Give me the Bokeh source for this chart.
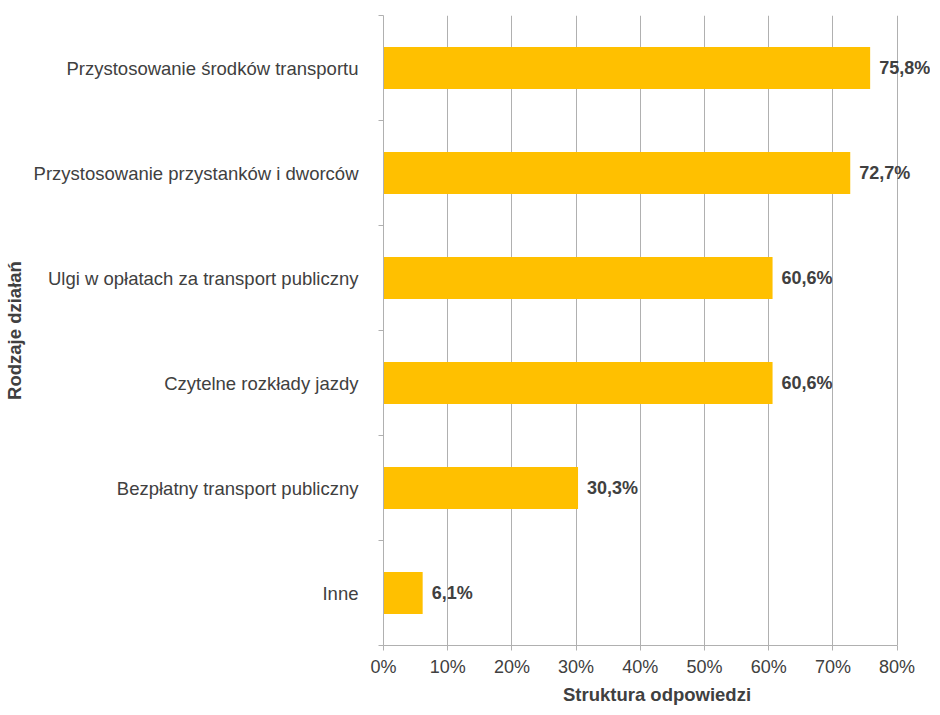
from bokeh.plotting import figure
from bokeh.models import ColumnDataSource, Range1d, FixedTicker, PrintfTickFormatter
from bokeh.core.properties import value
from bokeh.embed import file_html
from bokeh.resources import INLINE

categories = [
    "Przystosowanie środków transportu",
    "Przystosowanie przystanków i dworców",
    "Ulgi w opłatach za transport publiczny",
    "Czytelne rozkłady jazdy",
    "Bezpłatny transport publiczny",
    "Inne",
]
values = [75.8, 72.7, 60.6, 60.6, 30.3, 6.1]
x_ticks = [0, 10, 20, 30, 40, 50, 60, 70, 80]

positions = list(range(1, len(categories) + 1))
labels = [f"{v:.1f}".replace(".", ",") + "%" for v in values]
source = ColumnDataSource(dict(y=positions, v=values, lab=labels))

BAR = "#FFC000"
TXT = "#404040"
GRID = "#b0b0b0"

p = figure(
    width=930, height=707,
    x_range=Range1d(0, 85.2), y_range=Range1d(len(categories) + 0.5, 0.5),
    output_backend="svg", toolbar_location=None,
    min_border_left=374, min_border_top=15, min_border_right=0, min_border_bottom=61,
)
p.outline_line_color = None
p.background_fill_color = "white"
p.border_fill_color = "white"

p.hbar(y="y", right="v", left=0, height=0.4, source=source,
       fill_color=BAR, line_color=None)

p.text(x="v", y="y", text="lab", source=source, x_offset=9,
       text_align="left", text_baseline="middle",
       text_font=value("Liberation Sans"), text_font_style="bold",
       text_font_size="18px", text_color=TXT)

# x axis
p.xaxis.ticker = FixedTicker(ticks=x_ticks)
p.xaxis.formatter = PrintfTickFormatter(format="%d%%")
p.xaxis.bounds = (0, 80)
p.xaxis.axis_line_color = GRID
p.xaxis.major_tick_line_color = GRID
p.xaxis.major_tick_out = 5
p.xaxis.major_tick_in = 0
p.xaxis.minor_tick_line_color = None
p.xaxis.major_label_text_font = "Liberation Sans"
p.xaxis.major_label_text_font_size = "18px"
p.xaxis.major_label_text_color = TXT
p.xaxis.major_label_standoff = 6
p.xaxis.axis_label = "Struktura odpowiedzi"
p.xaxis.axis_label_text_font = "Liberation Sans"
p.xaxis.axis_label_text_font_style = "bold"
p.xaxis.axis_label_text_font_size = "18.5px"
p.xaxis.axis_label_text_color = TXT
p.xaxis.axis_label_standoff = 4

# y axis
p.yaxis.ticker = FixedTicker(ticks=positions,
                             minor_ticks=[i + 0.5 for i in range(len(categories) + 1)])
p.yaxis.major_label_overrides = {pos: c for pos, c in zip(positions, categories)}
p.yaxis.axis_line_color = GRID
p.yaxis.major_tick_line_color = None
p.yaxis.major_tick_out = 0
p.yaxis.major_tick_in = 0
p.yaxis.minor_tick_line_color = GRID
p.yaxis.minor_tick_out = 5
p.yaxis.minor_tick_in = 0
p.yaxis.major_label_text_font = "Liberation Sans"
p.yaxis.major_label_text_font_size = "18.5px"
p.yaxis.major_label_text_color = TXT
p.yaxis.major_label_standoff = 20
p.yaxis.axis_label = "Rodzaje działań"
p.yaxis.axis_label_text_font = "Liberation Sans"
p.yaxis.axis_label_text_font_style = "bold"
p.yaxis.axis_label_text_font_size = "18.5px"
p.yaxis.axis_label_text_color = TXT
p.yaxis.axis_label_standoff = 6

# grid
p.xgrid.ticker = FixedTicker(ticks=x_ticks)
p.xgrid.grid_line_color = GRID
p.xgrid.grid_line_width = 1
p.ygrid.grid_line_color = None

open("out.html", "w").write(file_html(p, INLINE))
